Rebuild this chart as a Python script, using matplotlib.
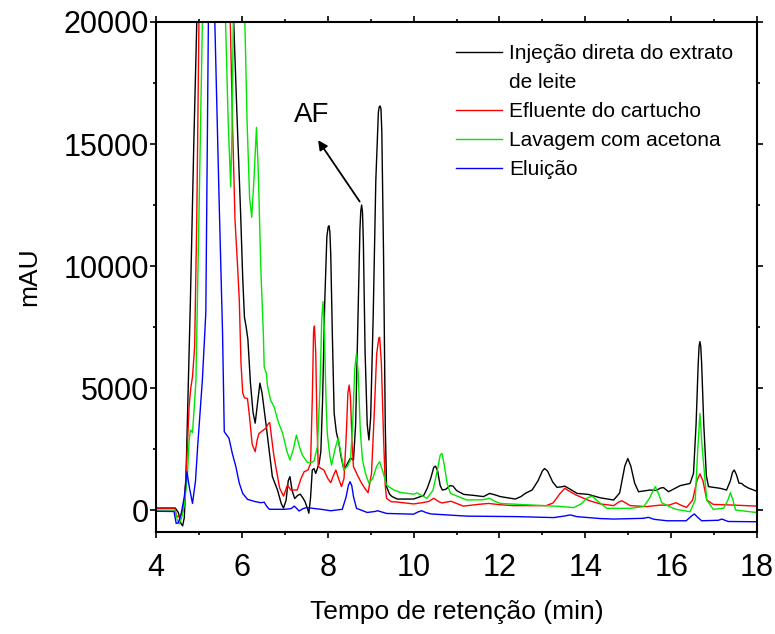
import matplotlib
matplotlib.use("Agg")
import matplotlib.pyplot as plt
from matplotlib.lines import Line2D
import numpy as np

plt.rcParams['font.family'] = ['Liberation Sans', 'DejaVu Sans']

# Retention time (min) / absorbance (mAU) pairs for each chromatogram
direct_t = [4.00, 4.45, 4.52, 4.58, 4.62, 4.66, 4.70, 4.75, 4.80, 4.88, 4.95, 5.05, 5.30, 5.60, 5.81,
            5.90, 5.97, 6.02, 6.06, 6.10, 6.14, 6.20, 6.26, 6.31, 6.36, 6.42, 6.47, 6.56, 6.64, 6.71,
            6.83, 6.92, 6.97, 7.03, 7.08, 7.12, 7.17, 7.23, 7.30, 7.36, 7.42, 7.47, 7.53, 7.56, 7.60,
            7.64, 7.68, 7.72, 7.76, 7.80, 7.84, 7.88, 7.93, 7.98, 8.01, 8.03, 8.05, 8.07, 8.11, 8.15, 8.20, 8.26,
            8.32, 8.38, 8.46, 8.53, 8.60, 8.65, 8.70, 8.75, 8.77, 8.79, 8.81, 8.83, 8.87, 8.92, 8.96, 9.00, 9.06,
            9.12, 9.18, 9.20, 9.22, 9.24, 9.26, 9.30, 9.34, 9.37, 9.44, 9.50, 9.62, 10.00, 10.16, 10.24, 10.32,
            10.40, 10.47, 10.51, 10.56, 10.62, 10.67, 10.75, 10.85, 10.92, 11.00, 11.17, 11.40, 11.63,
            11.77, 11.90, 12.02, 12.37, 12.50, 12.60, 12.76, 12.90, 13.00, 13.05, 13.12, 13.24, 13.34,
            13.45, 13.52, 13.65, 13.81, 14.07, 14.35, 14.66, 14.80, 14.92, 14.99, 15.06, 15.15, 15.24,
            15.51, 15.65, 15.75, 15.82, 15.94, 16.21, 16.44, 16.52, 16.58, 16.63, 16.65, 16.67, 16.69, 16.71, 16.76,
            16.82, 16.87, 17.14, 17.29, 17.38, 17.43, 17.47, 17.52, 17.58, 17.64, 17.70, 17.80, 17.98,
            18.00]
direct_y = [80, 80, -100, -550, -650, -300, 1500, 5000, 8500, 15000, 20000, 27000, 32000, 26000, 20000,
            15500, 12200, 9500, 7900, 7500, 7000, 5200, 4000, 3560, 4300, 5200, 4800, 3550, 2400, 1370,
            820, 250, 80, 400, 1200, 1370, 800, 470, 600, 650, 500, 350, 50, -130, 500,
            1640, 1700, 1500, 1700, 1910, 2400, 4500, 8500, 11200, 11600, 11650, 11400, 10500, 7000, 3960, 3200, 2730,
            2100, 1640, 1910, 2130, 2050, 3500, 7500, 11500, 12250, 12500, 12200, 11000, 6500, 3500, 2870, 3800, 8000,
            13500, 16300, 16520, 16560, 16450, 15500, 10500, 3500, 960, 650, 550, 450, 450, 550, 610, 900,
            1300, 1750, 1800, 1600, 1000, 820, 850, 1000, 980, 800, 640, 600, 550,
            680, 620, 550, 450, 550, 680, 820, 1200, 1600, 1700, 1600, 1150, 930,
            950, 980, 850, 680, 640, 500, 410, 700, 1800, 2110, 1800, 1100, 750,
            820, 800, 900, 920, 750, 1000, 1090, 1500, 3500, 6000, 6700, 6900, 6700, 6000, 3500,
            1400, 960, 890, 820, 1200, 1550, 1640, 1450, 1100, 1090, 1000, 900, 780,
            780]

effluent_t = [4.00, 4.44, 4.48, 4.53, 4.58, 4.62, 4.66, 4.70, 4.74, 4.77, 4.81, 4.85, 4.90, 4.95, 5.00,
              5.10, 5.40, 5.60, 5.73, 5.78, 5.84, 5.90, 5.94, 5.98, 6.02, 6.06, 6.13, 6.18, 6.24, 6.31,
              6.36, 6.40, 6.48, 6.56, 6.62, 6.65, 6.69, 6.74, 6.79, 6.88, 6.97, 7.06, 7.14, 7.29, 7.38,
              7.45, 7.54, 7.60, 7.64, 7.67, 7.69, 7.72, 7.75, 7.78, 7.85, 7.91, 8.00, 8.07, 8.13, 8.19,
              8.25, 8.32, 8.38, 8.43, 8.47, 8.50, 8.53, 8.57, 8.60, 8.70, 8.77, 8.86, 8.94, 9.02, 9.08,
              9.14, 9.19, 9.21, 9.25, 9.30, 9.34, 9.37, 9.48, 9.60, 10.00, 10.20, 10.35, 10.47, 10.58,
              10.66, 10.87, 11.16, 11.50, 11.75, 12.00, 12.32, 13.09, 13.25, 13.40, 13.52, 13.65, 13.79,
              14.10, 14.35, 14.66, 14.78, 14.85, 14.95, 15.05, 15.43, 15.74, 15.95, 16.11, 16.25, 16.36,
              16.50, 16.60, 16.67, 16.74, 16.83, 16.98, 17.50, 17.98, 18.00]
effluent_y = [80, 80, -250, -270, -200, -70, 400, 1370, 3000, 4230, 5000, 5460, 6690, 12000, 20000,
              28000, 30000, 26000, 20000, 16000, 11900, 10000, 8600, 6000, 4800, 4600, 4570, 3800, 2700, 2390,
              2900, 3140, 3250, 3350, 3550, 3580, 3000, 2300, 1780, 900, 570, 1020, 820, 820, 1300,
              1570, 1640, 1900, 4500, 7300, 7540, 6500, 3500, 1780, 1700, 1640, 1300, 1120, 1400, 1640,
              1300, 960, 1300, 3000, 4800, 5120, 4600, 2600, 1780, 1400, 1160, 900, 710, 1500, 3800,
              6400, 7050, 7080, 6000, 3000, 1000, 480, 340, 330, 250, 300, 350, 480, 350,
              290, 360, 160, 230, 270, 220, 180, 180, 290, 650, 890, 750, 610,
              380, 250, 180, 330, 380, 280, 180, 140, 200, 200, 300, 180, 110,
              410, 1200, 1480, 1200, 410, 230, 200, 160, 160]

acetone_t = [4.00, 4.44, 4.50, 4.54, 4.60, 4.66, 4.73, 4.77, 4.80, 4.85, 4.89, 4.93, 5.00, 5.08, 5.20,
             5.50, 5.62, 5.68, 5.74, 5.77, 5.80, 5.92, 6.07, 6.12, 6.18, 6.23, 6.28, 6.34, 6.38, 6.40,
             6.44, 6.50, 6.52, 6.57, 6.60, 6.67, 6.75, 6.85, 6.95, 7.05, 7.12, 7.20, 7.27, 7.34, 7.41,
             7.53, 7.62, 7.68, 7.76, 7.82, 7.86, 7.89, 7.92, 7.96, 7.99, 8.05, 8.09, 8.17, 8.24, 8.30,
             8.38, 8.46, 8.53, 8.58, 8.63, 8.67, 8.71, 8.76, 8.81, 8.88, 8.96, 9.05, 9.14, 9.21, 9.28,
             9.37, 9.54, 9.70, 10.00, 10.08, 10.31, 10.45, 10.55, 10.62, 10.66, 10.71, 10.78, 10.86,
             11.24, 11.60, 11.77, 11.90, 12.02, 12.80, 13.40, 13.73, 13.90, 14.05, 14.16, 14.30, 14.50,
             15.05, 15.36, 15.50, 15.63, 15.70, 15.78, 15.95, 16.11, 16.44, 16.56, 16.62, 16.67, 16.72,
             16.83, 16.98, 17.22, 17.32, 17.38, 17.44, 17.50, 17.98, 18.00]
acetone_y = [0, 0, -410, -570, -300, 200, 1370, 2800, 3280, 3170, 4200, 5330, 12000, 20000, 28000,
             27000, 20000, 16000, 13250, 15500, 20000, 24000, 20000, 16000, 12800, 12000, 13500, 15680, 14000, 12700,
             9970, 7250, 5870, 5600, 5050, 4500, 4230, 3600, 3140, 2400, 2050, 2500, 3070, 2600, 2250,
             1940, 1950, 2000, 2600, 5000, 7800, 8540, 7500, 4500, 3140, 2200, 1840, 2500, 2940, 2400,
             1640, 1800, 2050, 3500, 5800, 6420, 5600, 3200, 2050, 1500, 1090, 1300, 1800, 1980, 1600,
             1020, 820, 720, 650, 700, 480, 800, 1600, 2250, 2320, 1900, 1100, 680,
             410, 420, 480, 350, 270, 200, 150, 100, 250, 500, 570, 350, 70,
             70, 140, 500, 960, 700, 300, 150, 30, -70, 410, 2500, 3960, 2600,
             410, 30, 70, 400, 710, 400, 0, -100, -100]

elution_t = [4.00, 4.42, 4.47, 4.52, 4.58, 4.66, 4.72, 4.78, 4.85, 4.92, 4.97, 5.08, 5.16, 5.22, 5.30,
             5.37, 5.47, 5.55, 5.59, 5.70, 5.78, 5.86, 5.94, 6.02, 6.13, 6.30, 6.44, 6.52, 6.58, 6.64,
             7.00, 7.15, 7.22, 7.27, 7.33, 7.42, 7.50, 7.84, 8.07, 8.34, 8.43, 8.48, 8.52, 8.56, 8.60,
             8.67, 8.92, 9.10, 9.16, 9.22, 9.37, 10.00, 10.10, 10.19, 10.28, 10.40, 11.24, 12.40, 13.26,
             13.50, 13.65, 13.80, 14.35, 14.66, 15.35, 15.47, 15.60, 15.90, 16.35, 16.47, 16.54, 16.62,
             16.71, 17.10, 17.18, 17.33, 17.98, 18.00]
elution_y = [-50, -60, -550, -520, -200, 550, 1570, 900, 270, 1200, 2600, 5330, 8070, 20000, 30000,
             20000, 12700, 7250, 3210, 2940, 2300, 1780, 1100, 680, 440, 350, 300, 320, 150, 30,
             30, 60, 160, 80, -40, 50, 100, 30, -30, 30, 550, 1000, 1160, 1000, 550,
             70, -100, -60, -30, -60, -140, -170, -80, -30, -100, -160, -250, -270, -310,
             -250, -200, -270, -350, -370, -340, -300, -380, -440, -440, -250, -160, -300,
             -440, -420, -370, -470, -480, -480]

series_labels = ["Injeção direta do extrato", "Efluente do cartucho", "Lavagem com acetona", "Eluição"]
series_colors = ["#000000", "#ff0000", "#00e600", "#0000ff"]

x_ticks = [4, 6, 8, 10, 12, 14, 16, 18]
y_ticks = [0, 5000, 10000, 15000, 20000]

fig = plt.figure(figsize=(7.75, 6.34), dpi=100)
ax = fig.add_axes([0.2013, 0.1609, 0.7755, 0.8044])

traces = [(direct_t, direct_y), (effluent_t, effluent_y), (acetone_t, acetone_y), (elution_t, elution_y)]
handles = []
for (t, y), col, lab in zip(traces, series_colors, series_labels):
    h, = ax.plot(t, y, color=col, lw=1.0, label=lab)
    handles.append(h)

ax.set_xlim(4, 18)
ax.set_ylim(-900, 20000)
ax.set_xticks(x_ticks)
ax.set_yticks(y_ticks)
ax.set_xticks(np.arange(5, 18, 2), minor=True)
ax.set_yticks([2500, 7500, 12500, 17500], minor=True)
ax.tick_params(which='both', direction='out', top=True, right=True, labeltop=False, labelright=False,
               labelsize=22, width=1.2)
ax.tick_params(which='major', length=4.3)
ax.tick_params(which='minor', length=2.5)
ax.tick_params(axis='y', which='major', pad=1)
ax.tick_params(axis='x', which='major', pad=11)
for s in ax.spines.values():
    s.set_linewidth(1.5)

ax.set_xlabel("Tempo de retenção (min)", fontsize=19, labelpad=12)
ax.set_ylabel("mAU", fontsize=19, labelpad=16)

# Aflatoxin peak annotation
ax.annotate("AF", xy=(7.77, 15150), xytext=(7.63, 16200), fontsize=20,
            ha='center', va='center')
ax.annotate("", xy=(7.74, 15250), xytext=(8.78, 12550),
            arrowprops=dict(arrowstyle='-|>', color='black', lw=1.3, mutation_scale=14))

# Legend: the first label wraps onto a second line
blank = Line2D([], [], color='none')
leg_handles = [handles[0], blank, handles[1], handles[2], handles[3]]
leg_labels = [series_labels[0], "de leite", series_labels[1], series_labels[2], series_labels[3]]
ax.legend(leg_handles, leg_labels, loc='upper left', bbox_to_anchor=(0.475, 0.985), frameon=False,
          fontsize=15, handlelength=2.2, handletextpad=0.35, labelspacing=0.48, borderpad=0.2)

fig.savefig("out.png", dpi=100)
